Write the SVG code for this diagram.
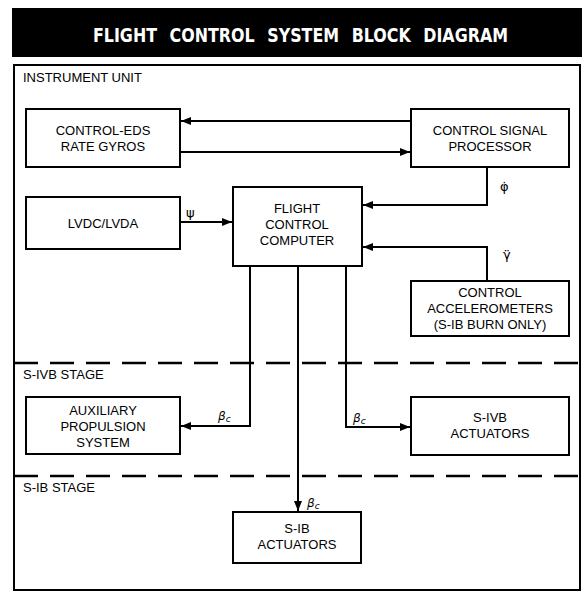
<svg xmlns="http://www.w3.org/2000/svg" width="582" height="593" viewBox="0 0 582 593">
<style>
.box{fill:#fff;stroke:#000;stroke-width:2}
.t{font-family:"Liberation Sans",Arial,sans-serif;font-size:13px;fill:#000;text-anchor:middle}
.lbl{font-family:"Liberation Sans",Arial,sans-serif;font-size:13px;fill:#000}
.sym{font-family:"DejaVu Sans",sans-serif;font-size:13px;fill:#000}
.beta{font-family:"DejaVu Sans",sans-serif;font-size:12px;font-style:italic;fill:#000}
.con{fill:none;stroke:#000;stroke-width:2;marker-end:url(#ah)}
.dash{fill:none;stroke:#000;stroke-width:2.5;stroke-dasharray:24 12}
.title{font-family:"Liberation Sans Narrow","DejaVu Sans Condensed","DejaVu Sans",sans-serif;font-stretch:condensed;font-size:20px;font-weight:bold;fill:#fff;word-spacing:8px}
</style>
<defs>
<marker id="ah" viewBox="0 0 10 8" refX="10" refY="4" markerWidth="5" markerHeight="4" orient="auto" markerUnits="strokeWidth">
<path d="M0,0 L10,4 L0,8 z" fill="#000"/>
</marker>
</defs>
<rect width="582" height="593" fill="#fff"/>
<g id="title">
<rect x="12" y="8" width="570" height="49" fill="#000"/>
<text class="title" x="93" y="42" textLength="415" lengthAdjust="spacingAndGlyphs">FLIGHT CONTROL SYSTEM BLOCK DIAGRAM</text>
</g>
<g id="frame">
<rect x="14" y="65" width="566" height="525" fill="none" stroke="#000" stroke-width="2"/>
<text class="lbl" x="23" y="82">INSTRUMENT UNIT</text>
<text class="lbl" x="23" y="379">S-IVB STAGE</text>
<text class="lbl" x="23" y="492">S-IB STAGE</text>
</g>
<g id="stage-dividers">
<line class="dash" x1="14" y1="363" x2="580" y2="363"/>
<line class="dash" x1="14" y1="476" x2="580" y2="476"/>
</g>
<g id="connectors">
<line class="con" x1="411" y1="121" x2="181" y2="121"/>
<line class="con" x1="180" y1="152" x2="410" y2="152"/>
<path class="con" d="M487,167 V205 H363"/>
<line class="con" x1="180" y1="222" x2="232" y2="222"/>
<path class="con" d="M487,281 V247 H363"/>
<path class="con" d="M250,266 V426 H181"/>
<path class="con" d="M346,266 V427 H410"/>
<path class="con" d="M298,266 V511"/>
<text class="sym" x="500" y="191">φ̇</text>
<text class="sym" x="186" y="217">ψ</text>
<text class="sym" x="503" y="259">γ̈</text>
<text class="beta" x="218" y="420">β<tspan font-size="9" dy="2">c</tspan></text>
<text class="beta" x="353" y="422">β<tspan font-size="9" dy="2">c</tspan></text>
<text class="beta" x="307" y="507">β<tspan font-size="9" dy="2">c</tspan></text>
</g>
<g id="rate-gyros">
<rect class="box" x="26" y="109" width="154" height="58"/>
<text class="t" x="103" y="135">CONTROL-EDS</text>
<text class="t" x="103" y="151">RATE GYROS</text>
</g>
<g id="signal-processor">
<rect class="box" x="411" y="109" width="158" height="58"/>
<text class="t" x="490" y="135">CONTROL SIGNAL</text>
<text class="t" x="490" y="151">PROCESSOR</text>
</g>
<g id="lvdc">
<rect class="box" x="26" y="197" width="154" height="52"/>
<text class="t" x="103" y="228">LVDC/LVDA</text>
</g>
<g id="fcc">
<rect class="box" x="233" y="187" width="129" height="79"/>
<text class="t" x="297" y="213">FLIGHT</text>
<text class="t" x="297" y="229">CONTROL</text>
<text class="t" x="297" y="245">COMPUTER</text>
</g>
<g id="accelerometers">
<rect class="box" x="411" y="281" width="158" height="55"/>
<text class="t" x="490" y="297">CONTROL</text>
<text class="t" x="490" y="313">ACCELEROMETERS</text>
<text class="t" x="490" y="329">(S-IB BURN ONLY)</text>
</g>
<g id="aps">
<rect class="box" x="26" y="397" width="154" height="57"/>
<text class="t" x="103" y="415">AUXILIARY</text>
<text class="t" x="103" y="431">PROPULSION</text>
<text class="t" x="103" y="447">SYSTEM</text>
</g>
<g id="sivb-actuators">
<rect class="box" x="411" y="397" width="158" height="58"/>
<text class="t" x="490" y="422">S-IVB</text>
<text class="t" x="490" y="438">ACTUATORS</text>
</g>
<g id="sib-actuators">
<rect class="box" x="233" y="512" width="128" height="51"/>
<text class="t" x="297" y="533">S-IB</text>
<text class="t" x="297" y="549">ACTUATORS</text>
</g>
</svg>
